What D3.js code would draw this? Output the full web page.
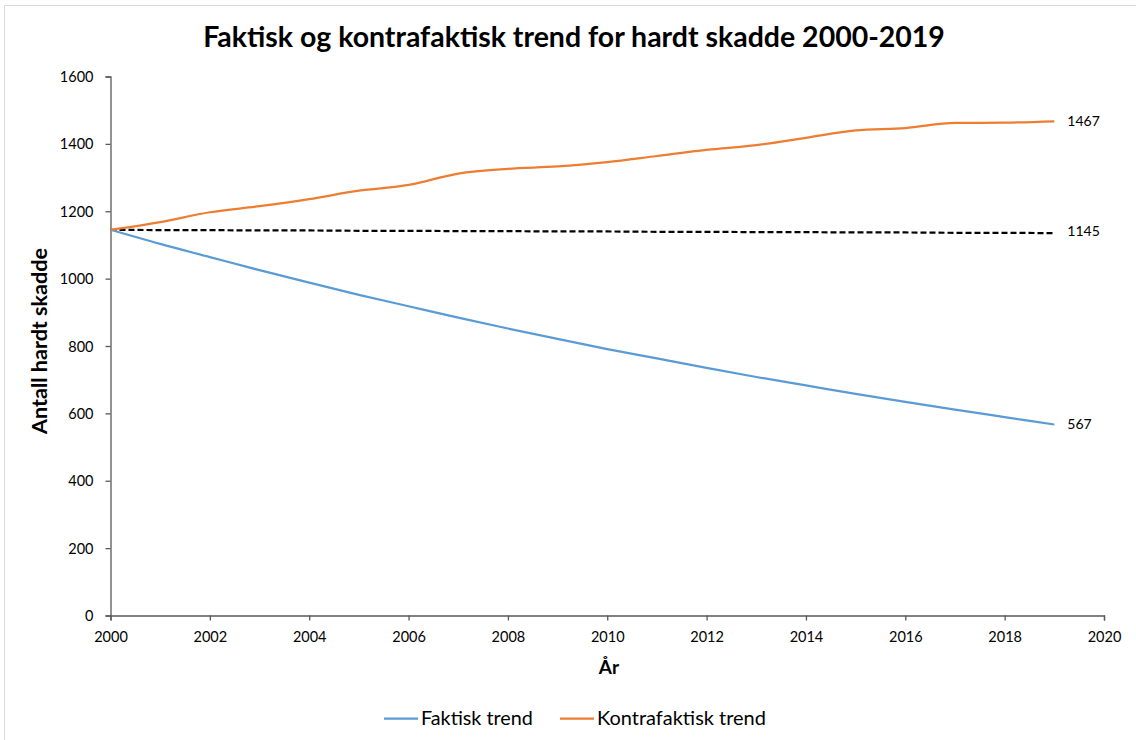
<!DOCTYPE html>
<html><head><meta charset="utf-8">
<script src="https://cdn.jsdelivr.net/npm/d3@7"></script>
<style>
html,body{margin:0;padding:0;background:#fff;}
text{font-family:Lato, "Open Sans", sans-serif;fill:#000;}
</style></head>
<body><svg id="c" width="1136" height="740"></svg>
<script>
const years = [2000,2001,2002,2003,2004,2005,2006,2007,2008,2009,2010,2011,2012,2013,2014,2015,2016,2017,2018,2019];
const faktisk = [1145,1103,1064,1025,988,952,918,884,852,821,791,763,735,708,683,658,634,611,589,567];
const kontrafaktisk = [1145,1168,1197,1215,1236,1261,1278,1312,1326,1333,1346,1364,1382,1396,1418,1440,1447,1462,1463,1467];
const nullTrend = [1145,1144,1144,1143,1143,1142,1142,1141,1141,1140,1140,1139,1139,1138,1138,1137,1137,1136,1136,1135];
const endLabels = ["567","1467","1145"];
const xTicks = [2000,2002,2004,2006,2008,2010,2012,2014,2016,2018,2020];
const yTicks = [0,200,400,600,800,1000,1200,1400,1600];
const legendNames = ["Faktisk trend","Kontrafaktisk trend"];
const colors = {blue:"#5B9BD5", orange:"#ED7D31", dash:"#000"};

const svg = d3.select("#c");
svg.append("line").attr("x1",4.5).attr("x2",1136).attr("y1",5.5).attr("y2",5.5).attr("stroke","#d9d9d9");
svg.append("line").attr("x1",4.5).attr("x2",4.5).attr("y1",5.5).attr("y2",740).attr("stroke","#d9d9d9");

const x = d3.scaleLinear().domain([2000,2020]).range([110.5,1104]);
const y = d3.scaleLinear().domain([0,1600]).range([615.5,76.5]);

const axisColor = "#595959";
const gx = svg.append("g").attr("transform","translate(0,615.5)")
  .call(d3.axisBottom(x).tickValues(xTicks).tickFormat(d3.format("d")).tickSize(5).tickPadding(8));
const gy = svg.append("g").attr("transform","translate(110.5,0)")
  .call(d3.axisLeft(y).tickValues(yTicks).tickFormat(d3.format("d")).tickSize(5).tickPadding(12));
[gx,gy].forEach(g=>{
  g.select(".domain").attr("stroke",axisColor).attr("stroke-width",1.3);
  g.selectAll(".tick line").attr("stroke",axisColor).attr("stroke-width",1.3);
  g.selectAll(".tick text").attr("font-size",14.5).attr("font-family","Lato").attr("fill","#000");
});
gx.selectAll(".tick text").attr("dy","0.9em");
gy.selectAll(".tick text").attr("dy","0.35em");

const line = d3.line().x((d,i)=>x(years[i])).y(d=>y(d)).curve(d3.curveMonotoneX);
svg.append("path").datum(nullTrend).attr("d",d3.line().x((d,i)=>x(years[i])).y(d=>y(d)))
  .attr("fill","none").attr("stroke",colors.dash).attr("stroke-width",2.2).attr("stroke-dasharray","6,3");
svg.append("path").datum(faktisk).attr("d",line).attr("fill","none").attr("stroke",colors.blue).attr("stroke-width",2.25);
svg.append("path").datum(kontrafaktisk).attr("d",line).attr("fill","none").attr("stroke",colors.orange).attr("stroke-width",2.25);

const lastVals = [faktisk[19], kontrafaktisk[19], nullTrend[19]];
lastVals.forEach((v,i)=>{
  svg.append("text").attr("x",x(2019)+13).attr("y",y(v)+ (i===2?-2:0)).attr("dy","0.35em")
    .attr("font-size",14).text(endLabels[i]);
});

const title = svg.append("text").attr("x",574).attr("y",47).attr("text-anchor","middle")
  .attr("font-weight","bold").attr("font-size",24).text("Faktisk og kontrafaktisk trend for hardt skadde 2000-2019");
const tw = title.node().getComputedTextLength();
title.attr("font-size",24*742/tw);

svg.append("text").attr("x",609).attr("y",674).attr("text-anchor","middle").attr("font-weight","bold").attr("font-size",19).text("År");
const yt = svg.append("text").attr("transform","translate(47,341) rotate(-90)").attr("text-anchor","middle")
  .attr("font-weight","bold").attr("font-size",18).text("Antall hardt skadde");
const yw = yt.node().getComputedTextLength();
yt.attr("font-size",18*186/yw);

const leg = [{x:384,c:colors.blue,n:legendNames[0],w:112},{x:560,c:colors.orange,n:legendNames[1],w:169}];
leg.forEach(l=>{
  svg.append("line").attr("x1",l.x).attr("x2",l.x+34).attr("y1",718.5).attr("y2",718.5).attr("stroke",l.c).attr("stroke-width",2.25);
  const t = svg.append("text").attr("x",l.x+37).attr("y",718).attr("dy","0.35em").attr("font-size",17).text(l.n);
  const w = t.node().getComputedTextLength();
  t.attr("font-size",17*l.w/w);
});
</script></body></html>
